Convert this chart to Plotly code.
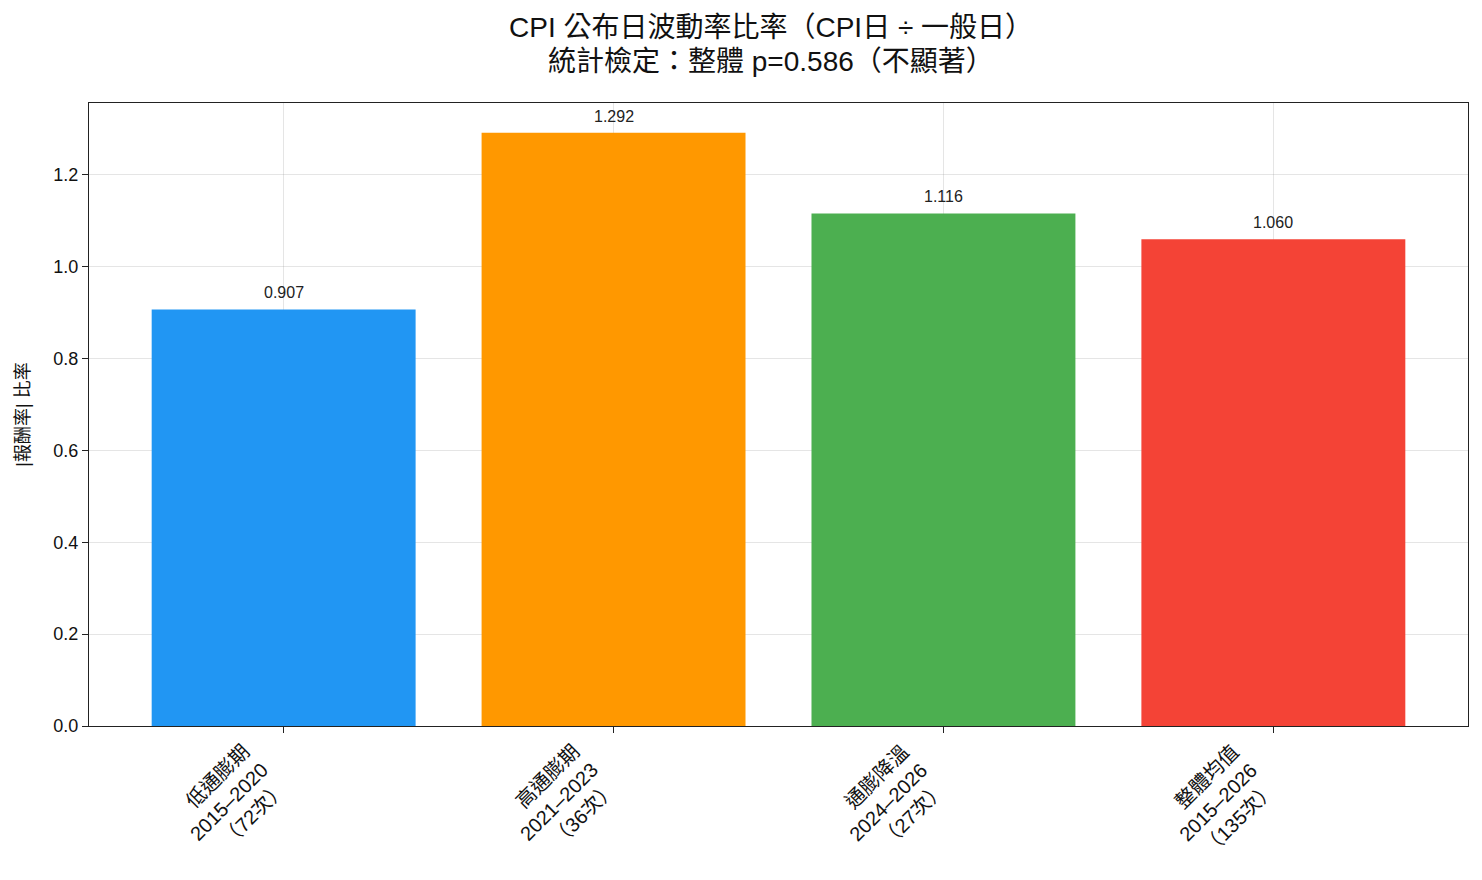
import plotly.graph_objects as go

categories = ["低通膨期<br>2015–2020<br>（72次）", "高通膨期<br>2021–2023<br>（36次）",
              "通膨降溫<br>2024–2026<br>（27次）", "整體均值<br>2015–2026<br>（135次）"]
ratios = [0.907, 1.292, 1.116, 1.060]
colors = ["#2196F3", "#FF9800", "#4CAF50", "#F44336"]
y_ticks = [0.0, 0.2, 0.4, 0.6, 0.8, 1.0, 1.2]
title_lines = ["CPI 公布日波動率比率（CPI日 ÷ 一般日）", "統計檢定：整體 p=0.586（不顯著）"]

FONT = "Liberation Sans, Noto Sans CJK TC, sans-serif"
xs = list(range(len(categories)))

PLOT_L, PLOT_R, PLOT_T, PLOT_B = 89, 1468, 103, 726
PW, PH = PLOT_R - PLOT_L, PLOT_B - PLOT_T

fig = go.Figure()
fig.add_trace(go.Bar(x=xs, y=ratios, marker=dict(color=colors, line=dict(width=0)),
                     width=0.8, showlegend=False, hoverinfo="y"))

for x, v in zip(xs, ratios):
    fig.add_annotation(x=x, y=v, text=f"{v:.3f}", showarrow=False, yanchor="bottom",
                       yshift=6, font=dict(size=16, color="#222", family=FONT))

# rotated category labels
for x, lab in zip(xs, categories):
    fig.add_annotation(x=x, y=0, xref="x", yref="paper", text=lab, showarrow=False,
                       textangle=-45, align="right", xanchor="center", yanchor="middle",
                       xshift=-55, yshift=-76, font=dict(size=20, color="#111", family=FONT))

for i, t in enumerate(title_lines):
    fig.add_annotation(x=(771 - PLOT_L) / PW, y=1 + (PLOT_T - (27 + 34 * i)) / PH,
                       xref="paper", yref="paper",
                       text=t, showarrow=False, xanchor="center", yanchor="middle",
                       font=dict(size=28, color="#111", family=FONT))

fig.update_layout(
    width=1482, height=880,
    margin=dict(l=PLOT_L, r=1482 - PLOT_R, t=PLOT_T, b=880 - PLOT_B),
    paper_bgcolor="white", plot_bgcolor="white",
    font=dict(family=FONT, color="#111", size=15),
    bargap=0.2,
)
fig.update_xaxes(range=[-0.59, 3.59], tickvals=xs, ticktext=["" for _ in xs],
                 showline=True, linecolor="#222", linewidth=1.3, mirror=True,
                 ticks="outside", ticklen=6, tickcolor="#222",
                 showgrid=True, gridcolor="rgba(150,150,150,0.25)", layer="above traces",
                 zeroline=False)
fig.update_yaxes(range=[0, 1.3566], tickvals=y_ticks, ticktext=[f"{t:.1f}" for t in y_ticks],
                 showline=True, linecolor="#222", linewidth=1.3, mirror=True,
                 ticks="outside", ticklen=6, tickcolor="#222",
                 showgrid=True, gridcolor="rgba(150,150,150,0.25)", layer="above traces",
                 zeroline=False, tickfont=dict(size=18, family=FONT),
                 title=dict(text="|報酬率| 比率", font=dict(size=18, family=FONT), standoff=18))

fig.write_html("out.html")
